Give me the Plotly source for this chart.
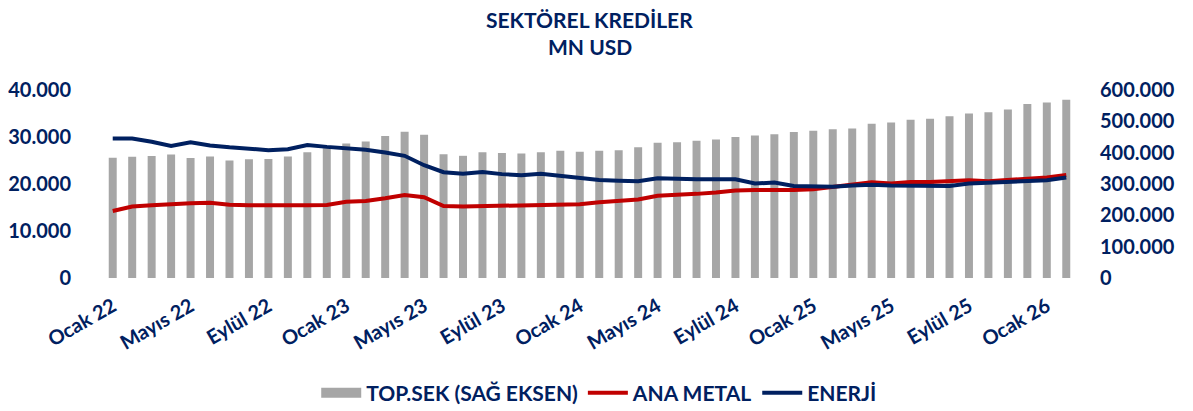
import plotly.graph_objects as go

months = ["Ocak", "Şubat", "Mart", "Nisan", "Mayıs", "Haziran", "Temmuz",
          "Ağustos", "Eylül", "Ekim", "Kasım", "Aralık"]
categories = [f"{months[i % 12]} {22 + i // 12}" for i in range(50)]

top_sek = [384000, 387000, 389000, 394000, 383000, 388000, 375000, 379000, 380000, 388000,
           401000, 414000, 429000, 436000, 453000, 467000, 457000, 395000, 390000, 401000,
           399000, 397000, 401000, 406000, 403000, 406000, 408000, 417000, 432000, 433000,
           438000, 442000, 450000, 455000, 459000, 466000, 470000, 475000, 477000, 492000,
           496000, 505000, 508000, 516000, 525000, 529000, 538000, 555000, 560000, 569000]

ana_metal = [14250, 15200, 15500, 15800, 15900, 16000, 15600, 15500, 15400, 15500,
             15500, 15550, 16200, 16400, 16950, 17650, 17200, 15300, 15200, 15300,
             15400, 15500, 15500, 15500, 15700, 16100, 16450, 16700, 17500, 17650,
             17900, 18200, 18600, 18700, 18650, 18700, 18900, 19400, 19900, 20350,
             20100, 20400, 20400, 20500, 20800, 20600, 20800, 21100, 21400, 21900]

enerji = [29700, 29700, 29000, 28100, 28900, 28200, 27800, 27500, 27200, 27400,
          28300, 27900, 27600, 27300, 26700, 26000, 24000, 22500, 22200, 22550,
          22100, 21850, 22200, 21700, 21200, 20850, 20700, 20600, 21200, 21000,
          21000, 21000, 21000, 20100, 20300, 19600, 19400, 19400, 19700, 19850,
          19700, 19600, 19600, 19600, 20100, 20300, 20350, 20600, 20800, 21400]

title_lines = ["SEKTÖREL KREDİLER", "MN USD"]
bar_name = "TOP.SEK (SAĞ EKSEN)"

tick_idx = list(range(0, 50, 4))
tick_vals = [categories[i] for i in tick_idx]

navy = "#002060"
red = "#C00000"
gray = "#A6A6A6"
font_family = "Lato, 'Open Sans', sans-serif"
clear = "rgba(0,0,0,0)"

# page body has an 8px default margin, so the figure is sized to fit inside the window
W, H = 1185, 403
L, T, PH = 95, 82, 188

fig = go.Figure()
fig.add_trace(go.Bar(x=categories, y=top_sek, name=bar_name, showlegend=False,
                     marker=dict(color=gray, line=dict(width=0)), yaxis="y"))
# legend-only entry so the bar series shows as a wide grey block like the original
fig.add_trace(go.Scatter(x=[None], y=[None], name=bar_name, mode="lines",
                         line=dict(color=gray, width=11), yaxis="y", hoverinfo="skip"))
fig.add_trace(go.Scatter(x=categories, y=ana_metal, name="ANA METAL", mode="lines",
                         line=dict(color=red, width=4), yaxis="y2"))
fig.add_trace(go.Scatter(x=categories, y=enerji, name="ENERJİ", mode="lines",
                         line=dict(color=navy, width=4), yaxis="y2"))

bold = dict(color=navy, family=font_family, weight="bold")

fig.update_layout(
    width=W, height=H,
    margin=dict(l=L, r=117, t=T, b=H - T - PH, autoexpand=False),
    paper_bgcolor="white", plot_bgcolor="white",
    separators=",.",
    bargap=0.59,
    font=dict(family=font_family, color=navy),
    xaxis=dict(type="category", tickmode="array", tickvals=tick_vals, ticktext=tick_vals,
               tickangle=-30, showgrid=False, showline=False, automargin=False,
               ticks="outside", ticklen=8, tickcolor=clear,
               tickfont=dict(size=20, **bold)),
    yaxis=dict(side="right", range=[0, 600000], dtick=100000, tickformat=",d",
               showgrid=False, zeroline=False, showline=False, automargin=False,
               ticks="outside", ticklen=19, tickcolor=clear,
               tickfont=dict(size=20, **bold)),
    yaxis2=dict(side="left", overlaying="y", range=[0, 40000], dtick=10000, tickformat=",d",
                showgrid=False, zeroline=False, showline=False, automargin=False,
                ticks="outside", ticklen=27, tickcolor=clear,
                tickfont=dict(size=20, **bold)),
    legend=dict(orientation="h", x=0.51, xanchor="center", y=-(385 - (T + PH)) / PH,
                yanchor="middle", font=dict(size=21, **bold), itemwidth=40,
                traceorder="normal"),
    showlegend=True,
    annotations=[
        dict(text=title_lines[0], x=0.5, y=1 + (T - 11) / PH, xref="paper", yref="paper",
             showarrow=False, yanchor="middle", font=dict(size=21, **bold)),
        dict(text=title_lines[1], x=0.5, y=1 + (T - 38) / PH, xref="paper", yref="paper",
             showarrow=False, yanchor="middle", font=dict(size=21, **bold)),
    ],
)

fig.write_html("out.html")
